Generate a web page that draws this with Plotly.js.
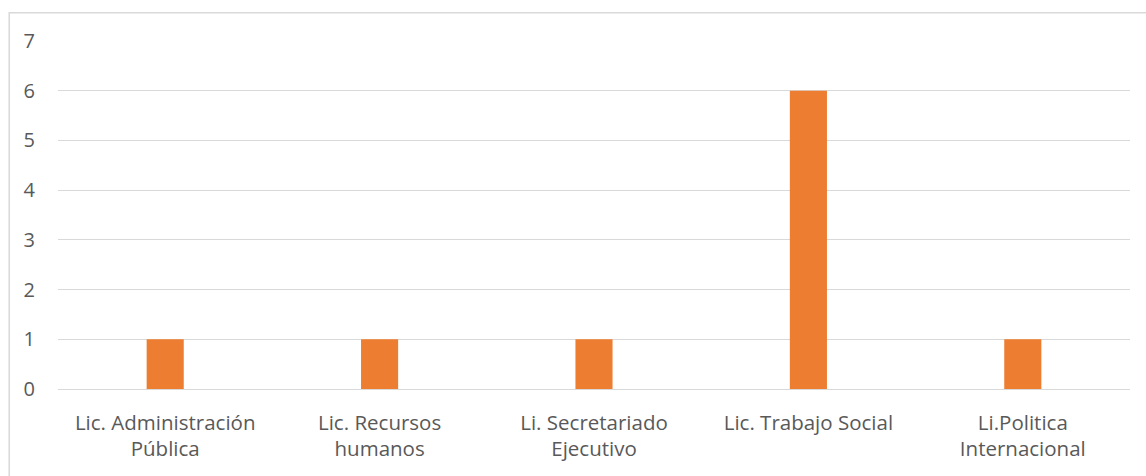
<!DOCTYPE html>
<html>
<head>
<meta charset="utf-8">
<script src="https://cdn.plot.ly/plotly-3.0.1.min.js"></script>
<style>html,body{margin:0;padding:0;background:#fff;}#chart{width:1146px;height:476px;}</style>
</head>
<body>
<div id="chart"></div>
<script>
var categories = ["Lic. Administración<br>Pública", "Lic. Recursos<br>humanos", "Li. Secretariado<br>Ejecutivo", "Lic. Trabajo Social", "Li.Politica<br>Internacional"];
var values = [1, 1, 1, 6, 1];
var yTicks = [0, 1, 2, 3, 4, 5, 6, 7];

var trace = {
  type: "bar",
  x: categories,
  y: values,
  marker: {color: "#ED7D31"},
  width: 0.173,
  hoverinfo: "none"
};

var layout = {
  width: 1146,
  height: 476,
  margin: {l: 58, r: 16, t: 41, b: 87},
  paper_bgcolor: "#ffffff",
  plot_bgcolor: "#ffffff",
  font: {family: "Open Sans, Liberation Sans, sans-serif", size: 20, color: "#595959"},
  showlegend: false,
  xaxis: {
    type: "category",
    showgrid: false,
    zeroline: false,
    showline: false,
    ticks: "",
    ticklabelstandoff: 19,
    tickfont: {size: 20.5, color: "#595959"},
    fixedrange: true
  },
  yaxis: {
    range: [0, 7],
    tickvals: yTicks,
    ticktext: yTicks.map(String),
    showgrid: true,
    gridcolor: "#D9D9D9",
    gridwidth: 1,
    zeroline: true,
    zerolinecolor: "#D9D9D9",
    zerolinewidth: 1,
    showline: false,
    ticks: "",
    ticklabelstandoff: 22,
    tickfont: {size: 20, color: "#595959"},
    fixedrange: true
  },
  shapes: [{
    type: "rect", xref: "paper", yref: "paper",
    x0: -0.0455, x1: 1.2, y0: -0.5, y1: 1.0815,
    line: {color: "#D9D9D9", width: 1.5},
    fillcolor: "rgba(0,0,0,0)",
    layer: "below"
  }]
};

Plotly.newPlot("chart", [trace], layout, {displayModeBar: false, staticPlot: true});
</script>
</body>
</html>
